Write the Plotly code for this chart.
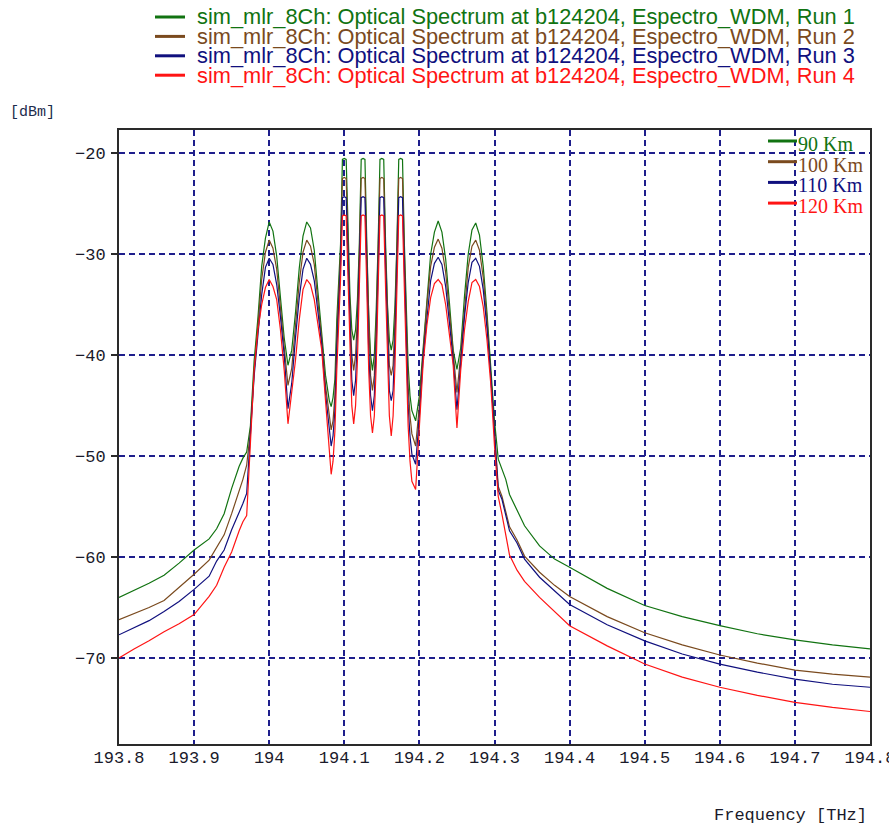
import plotly.graph_objects as go

# Frequency grid of the exported optical spectrum [THz]
FREQ_THZ = [
    193.80, 193.82, 193.84, 193.86, 193.88, 193.90, 193.92, 193.93, 193.94, 193.95,
    193.96, 193.965, 193.97,
    193.975, 193.98, 193.985, 193.99, 193.995, 194.0, 194.005, 194.01, 194.015, 194.02,
    194.025, 194.03, 194.035, 194.04, 194.045, 194.05, 194.055, 194.06, 194.065, 194.07,
    194.075, 194.08,
    194.0825, 194.085, 194.0875, 194.09, 194.0925, 194.095, 194.0975, 194.1, 194.1025,
    194.105, 194.1075, 194.11, 194.1125, 194.115, 194.1175, 194.12, 194.1225, 194.125,
    194.1275, 194.13, 194.1325, 194.135, 194.1375, 194.14, 194.1425, 194.145, 194.1475,
    194.15, 194.1525, 194.155, 194.1575, 194.16, 194.1625, 194.165, 194.1675, 194.17,
    194.1725, 194.175, 194.1775, 194.18, 194.1825, 194.185, 194.1875,
    194.19, 194.195, 194.2, 194.205, 194.21, 194.215, 194.22, 194.225, 194.23, 194.235,
    194.24, 194.245, 194.25, 194.255, 194.26, 194.265, 194.27, 194.275, 194.28, 194.285,
    194.29, 194.295, 194.3, 194.305,
    194.31, 194.315, 194.32, 194.33, 194.34, 194.36, 194.38, 194.40, 194.45, 194.50,
    194.55, 194.60, 194.65, 194.70, 194.75, 194.80,
]

# Run 1 - 90 Km [dBm]
RUN1_90KM = [
    -64.0, -63.3, -62.6, -61.8, -60.6, -59.3, -58.2, -57.2, -55.7, -53.2,
    -51.0, -50.2, -49.6,
    -47.0, -40.5, -36.3, -31.2, -28.4, -26.8, -27.7, -30.2, -34.3, -38.3,
    -41.0, -39.5, -35.8, -31.4, -28.2, -26.8, -27.4, -29.6, -33.8, -37.8,
    -42.0, -44.5,
    -45.1, -44.2, -42.4, -36.5, -33.0, -29.0, -20.6, -20.5, -20.6,
    -28.5, -34.0, -37.5, -38.5, -37.5, -34.5, -29.0, -20.6, -20.5,
    -20.6, -29.0, -36.0, -40.0, -41.5, -40.0, -35.5, -29.0, -20.6,
    -20.5, -20.6, -29.0, -35.0, -38.5, -39.5, -38.5, -35.0, -29.0,
    -20.6, -20.5, -20.6, -29.0, -36.0, -41.0, -44.0,
    -45.5, -46.5, -44.0, -39.3, -34.2, -30.0, -27.8, -26.7, -27.8, -30.5,
    -34.8, -39.5, -41.4, -39.3, -34.2, -30.0, -27.6, -26.9, -28.1, -31.2,
    -35.8, -41.0, -46.5, -50.3,
    -51.3, -52.3, -53.8, -55.4, -56.9, -58.9, -60.2, -61.0, -63.1, -64.8,
    -65.9, -66.8, -67.6, -68.2, -68.7, -69.1,
]

# Run 2 - 100 Km [dBm]
RUN2_100KM = [
    -66.2, -65.6, -65.0, -64.3, -63.0, -61.7, -60.3, -59.0, -57.8, -55.7,
    -53.5, -52.3, -50.9,
    -47.5, -41.5, -37.2, -32.5, -29.8, -28.6, -29.4, -31.5, -35.3, -39.3,
    -43.0, -41.3, -37.0, -32.8, -29.8, -28.6, -29.2, -31.0, -34.8, -38.5,
    -43.0, -46.0,
    -47.4, -46.5, -44.0, -38.0, -34.0, -30.0, -22.5, -22.4, -22.5,
    -29.5, -35.5, -40.0, -41.5, -40.0, -36.0, -30.0, -22.5, -22.4,
    -22.5, -30.0, -37.5, -42.0, -43.5, -42.0, -37.0, -30.0, -22.5,
    -22.4, -22.5, -30.0, -36.5, -41.0, -42.0, -41.0, -36.5, -30.0,
    -22.5, -22.4, -22.5, -30.0, -37.5, -43.0, -46.0,
    -47.8, -49.0, -45.0, -39.8, -35.0, -31.2, -29.3, -28.5, -29.4, -31.8,
    -35.8, -40.0, -43.7, -40.0, -35.2, -31.3, -29.2, -28.6, -29.6, -32.3,
    -36.5, -41.5, -47.5, -53.0,
    -54.0, -55.5, -57.0, -58.3, -59.9, -61.5, -62.8, -63.9, -65.9, -67.5,
    -68.7, -69.7, -70.5, -71.2, -71.6, -71.9,
]

# Run 3 - 110 Km [dBm]
RUN3_110KM = [
    -67.7, -67.0, -66.3, -65.4, -64.4, -63.2, -61.9, -60.4, -59.3, -57.3,
    -55.6, -54.7, -53.7,
    -48.0, -42.0, -38.0, -34.0, -31.3, -30.4, -31.0, -33.0, -36.2, -40.0,
    -45.3, -42.8, -38.3, -34.3, -31.5, -30.4, -31.0, -32.6, -35.8, -39.0,
    -43.8, -47.5,
    -49.0, -48.0, -45.5, -39.5, -35.5, -31.0, -24.4, -24.3, -24.4,
    -31.0, -37.5, -42.5, -44.0, -42.5, -38.0, -31.5, -24.4, -24.3,
    -24.4, -31.5, -39.5, -44.0, -45.5, -44.0, -39.0, -31.5, -24.4,
    -24.3, -24.4, -31.5, -38.5, -43.5, -44.5, -43.5, -38.5, -31.5,
    -24.4, -24.3, -24.4, -31.5, -39.5, -45.0, -48.0,
    -49.8, -50.8, -46.0, -40.2, -36.0, -32.6, -30.9, -30.3, -31.0, -33.2,
    -36.8, -40.5, -45.4, -40.8, -36.2, -32.8, -30.8, -30.4, -31.2, -33.5,
    -37.3, -42.0, -48.0, -53.4,
    -54.3, -55.9, -57.4, -58.6, -60.2, -62.0, -63.4, -64.7, -66.7, -68.3,
    -69.6, -70.6, -71.4, -72.1, -72.6, -72.9,
]

# Run 4 - 120 Km [dBm]
RUN4_120KM = [
    -70.0, -69.1, -68.3, -67.4, -66.6, -65.7, -63.9, -62.8, -61.0, -59.5,
    -57.4, -56.5, -55.9,
    -49.0, -41.5, -37.5, -35.0, -33.3, -32.5, -33.2, -34.5, -37.5, -41.5,
    -46.8, -43.5, -40.5, -36.5, -33.5, -32.5, -33.0, -34.5, -37.0, -39.5,
    -44.5, -49.0,
    -51.8, -50.5, -47.5, -41.5, -37.0, -32.5, -26.2, -26.1, -26.2,
    -33.0, -40.0, -45.0, -46.8, -45.0, -40.5, -33.5, -26.2, -26.1,
    -26.2, -33.5, -41.5, -46.0, -47.7, -46.0, -41.0, -33.5, -26.2,
    -26.1, -26.2, -33.5, -41.0, -46.0, -48.0, -46.0, -41.0, -33.5,
    -26.2, -26.1, -26.2, -33.5, -41.5, -47.0, -50.5,
    -52.5, -53.3, -47.5, -40.8, -37.0, -34.3, -32.9, -32.5, -33.0, -35.0,
    -38.0, -41.0, -47.2, -41.5, -37.5, -34.7, -32.8, -32.5, -33.2, -35.2,
    -38.5, -42.8, -49.0, -54.0,
    -55.8, -57.8, -59.8, -61.3, -62.4, -64.0, -65.4, -66.8, -68.8, -70.6,
    -71.9, -72.9, -73.7, -74.4, -74.9, -75.3,
]

X_TICKS = [193.8, 193.9, 194.0, 194.1, 194.2, 194.3, 194.4, 194.5, 194.6, 194.7, 194.8]
X_TICK_TEXT = ["193.8", "193.9", "194", "194.1", "194.2", "194.3",
               "194.4", "194.5", "194.6", "194.7", "194.8"]
Y_TICKS = [-70, -60, -50, -40, -30, -20]

RUN_TITLES = [
    "sim_mlr_8Ch: Optical Spectrum at b124204, Espectro_WDM, Run 1",
    "sim_mlr_8Ch: Optical Spectrum at b124204, Espectro_WDM, Run 2",
    "sim_mlr_8Ch: Optical Spectrum at b124204, Espectro_WDM, Run 3",
    "sim_mlr_8Ch: Optical Spectrum at b124204, Espectro_WDM, Run 4",
]
DISTANCES = ["90 Km", "100 Km", "110 Km", "120 Km"]
SERIES = [RUN1_90KM, RUN2_100KM, RUN3_110KM, RUN4_120KM]
COLORS = ["#117311", "#7a4a1e", "#10107e", "#ff1414"]

# Figure geometry in pixels
W, H = 889, 825
PLOT_L, PLOT_R, PLOT_T, PLOT_B = 119, 870, 130, 744


def px_x(px):
    return (px - PLOT_L) / (PLOT_R - PLOT_L)


def px_y(py):
    return (PLOT_B - py) / (PLOT_B - PLOT_T)


fig = go.Figure()
for title, vals, color in zip(RUN_TITLES, SERIES, COLORS):
    fig.add_trace(go.Scatter(
        x=FREQ_THZ, y=vals, mode="lines", name=title,
        line=dict(color=color, width=1.2), showlegend=False,
    ))

GRID = "#1e1e8c"
MONO = "Liberation Mono"

shapes = []
annotations = []

# Run legend above the plot
for i, (title, color) in enumerate(zip(RUN_TITLES, COLORS)):
    yc = 17 + 19.4 * i
    shapes.append(dict(type="line", xref="paper", yref="paper",
                       x0=px_x(155), x1=px_x(185), y0=px_y(yc), y1=px_y(yc),
                       line=dict(color=color, width=3)))
    annotations.append(dict(text=title, xref="paper", yref="paper",
                            x=px_x(196), y=px_y(yc), xanchor="left", yanchor="middle",
                            showarrow=False, borderpad=0,
                            font=dict(family="Liberation Sans", size=21.8, color=color)))

# Distance legend inside the plot
shapes.append(dict(type="rect", xref="paper", yref="paper", layer="between",
                   x0=px_x(762), x1=px_x(868), y0=px_y(216), y1=px_y(132),
                   fillcolor="white", line=dict(width=0)))
for i, (label, color) in enumerate(zip(DISTANCES, COLORS)):
    yc = 144 + 20.7 * i
    shapes.append(dict(type="line", xref="paper", yref="paper",
                       x0=px_x(768), x1=px_x(797), y0=px_y(yc - 3), y1=px_y(yc - 3),
                       line=dict(color=color, width=3)))
    annotations.append(dict(text=label, xref="paper", yref="paper",
                            x=px_x(797), y=px_y(yc), xanchor="left", yanchor="middle",
                            showarrow=False, borderpad=0,
                            font=dict(family="Liberation Serif", size=20, color=color)))

# Axis unit labels
annotations.append(dict(text="[dBm]", xref="paper", yref="paper",
                        x=px_x(8), y=px_y(112), xanchor="left", yanchor="middle",
                        showarrow=False, font=dict(family=MONO, size=15, color="#1c2c4c")))
annotations.append(dict(text="Frequency [THz]", xref="paper", yref="paper",
                        x=px_x(869), y=px_y(815), xanchor="right", yanchor="middle",
                        showarrow=False, font=dict(family=MONO, size=17, color="#1a1a2a")))

fig.update_layout(
    width=W, height=H,
    margin=dict(l=PLOT_L, r=W - PLOT_R, t=PLOT_T, b=H - PLOT_B, pad=0),
    paper_bgcolor="white", plot_bgcolor="white",
    shapes=shapes, annotations=annotations,
    showlegend=False,
)
fig.update_xaxes(
    range=[193.8, 194.8], tickmode="array", tickvals=X_TICKS, ticktext=X_TICK_TEXT,
    showgrid=True, gridcolor=GRID, gridwidth=1.6, griddash="6px,4px",
    showline=True, mirror=True, linecolor="#2a2a2a", linewidth=2,
    ticks="", zeroline=False, ticklabeloverflow="allow", automargin=False,
    ticklabelstandoff=-3,
    tickfont=dict(family=MONO, size=17, color="#1a1a2a"),
)
fig.update_yaxes(
    range=[-78.52, -17.69], tickmode="array", tickvals=Y_TICKS,
    showgrid=True, gridcolor=GRID, gridwidth=1.6, griddash="6px,4px",
    showline=True, mirror=True, linecolor="#2a2a2a", linewidth=2,
    ticks="outside", ticklen=6, tickcolor="#2a2a2a", tickwidth=1.5,
    ticklabelstandoff=2, zeroline=False, automargin=False,
    tickfont=dict(family=MONO, size=17, color="#1a1a2a"),
)

fig.write_html("out.html")
